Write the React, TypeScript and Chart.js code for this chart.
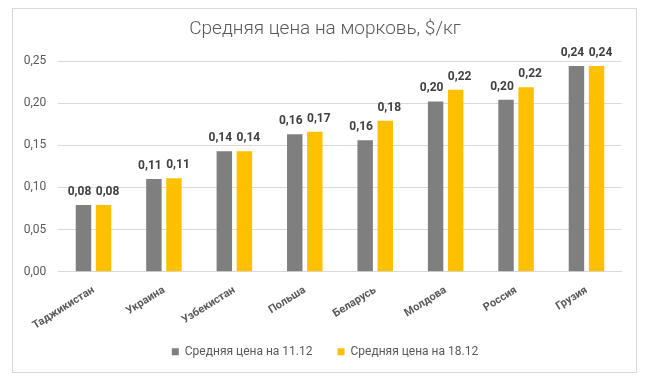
import React, { useEffect, useRef } from "react";
import { Chart, registerables } from "chart.js";

Chart.register(...registerables);

const categories = ["Таджикистан", "Украина", "Узбекистан", "Польша", "Беларусь", "Молдова", "Россия", "Грузия"];
const price1112 = [0.079, 0.110, 0.143, 0.163, 0.156, 0.202, 0.204, 0.244];
const price1812 = [0.079, 0.111, 0.143, 0.166, 0.179, 0.216, 0.219, 0.244];
const seriesNames = ["Средняя цена на 11.12", "Средняя цена на 18.12"];
const titleText = "Средняя цена на морковь, $/кг";
const yMin = 0;
const yMax = 0.25;
const yStep = 0.05;

const FONT = "Roboto, 'Open Sans', sans-serif";
const fmt = (v: number) => v.toFixed(2).replace(".", ",");

const dataLabels = {
  id: "dataLabels",
  afterDatasetsDraw(chart: any) {
    const ctx = chart.ctx;
    ctx.save();
    ctx.font = `bold 12px ${FONT}`;
    ctx.fillStyle = "#404040";
    ctx.textAlign = "center";
    ctx.textBaseline = "middle";
    const shifts = [-4, 4];
    chart.data.datasets.forEach((ds: any, di: number) => {
      const meta = chart.getDatasetMeta(di);
      meta.data.forEach((el: any, i: number) => {
        ctx.fillText(fmt(ds.data[i]), el.x + shifts[di], el.y - 13);
      });
    });
    ctx.restore();
  },
};

const noClip = (s: any) => {
  s._computeLabelArea = () => undefined;
};

export default function App() {
  const ref = useRef<HTMLCanvasElement>(null);
  useEffect(() => {
    if (!ref.current) return;
    const chart = new Chart(ref.current, {
      type: "bar",
      data: {
        labels: categories,
        datasets: [
          { label: seriesNames[0], data: price1112, backgroundColor: "#7F7F7F", categoryPercentage: 0.57, barPercentage: 0.77 },
          { label: seriesNames[1], data: price1812, backgroundColor: "#FFC000", categoryPercentage: 0.57, barPercentage: 0.77 },
        ],
      },
      options: {
        responsive: false,
        animation: false,
        devicePixelRatio: 1,
        layout: { padding: { left: 28.3, right: 28.3, top: 0, bottom: 18.3 } },
        plugins: {
          title: {
            display: true,
            text: titleText,
            color: "#595959",
            font: { family: FONT, size: 19, weight: "300" as any },
            padding: { top: 18, bottom: 20.2 },
          },
          legend: {
            position: "bottom",
            labels: {
              boxWidth: 7,
              boxHeight: 7,
              padding: 25,
              color: "#595959",
              font: { family: FONT, size: 12 },
            },
          },
          tooltip: { enabled: false },
        },
        scales: {
          x: {
            grid: { display: false },
            border: { display: true, color: "#D9D9D9" },
            ticks: {
              autoSkip: false,
              minRotation: 32,
              maxRotation: 32,
              color: "#595959",
              font: { family: FONT, size: 11, weight: "bold" as any },
              padding: 4,
            },
            afterFit: (s: any) => { s.height = 49; noClip(s); },
          },
          y: {
            min: yMin,
            max: yMax,
            grid: { color: "#D9D9D9", drawTicks: false },
            border: { display: false },
            ticks: {
              stepSize: yStep,
              padding: 12,
              color: "#595959",
              font: { family: FONT, size: 12 },
              callback: (v: any) => fmt(Number(v)),
            },
            afterFit: (s: any) => { s.width = 30; noClip(s); },
          },
        },
      },
      plugins: [dataLabels],
    });
    return () => chart.destroy();
  }, []);
  return (
    <div style={{ position: "fixed", left: 0, top: 0, width: 650, height: 386, background: "#fff" }}>
      <div style={{ position: "absolute", left: 12, top: 8, width: 623, height: 363, border: "1px solid #D9D9D9" }} />
      <canvas ref={ref} width={650} height={386} style={{ position: "absolute", left: 0, top: 0, width: 650, height: 386 }} />
    </div>
  );
}
